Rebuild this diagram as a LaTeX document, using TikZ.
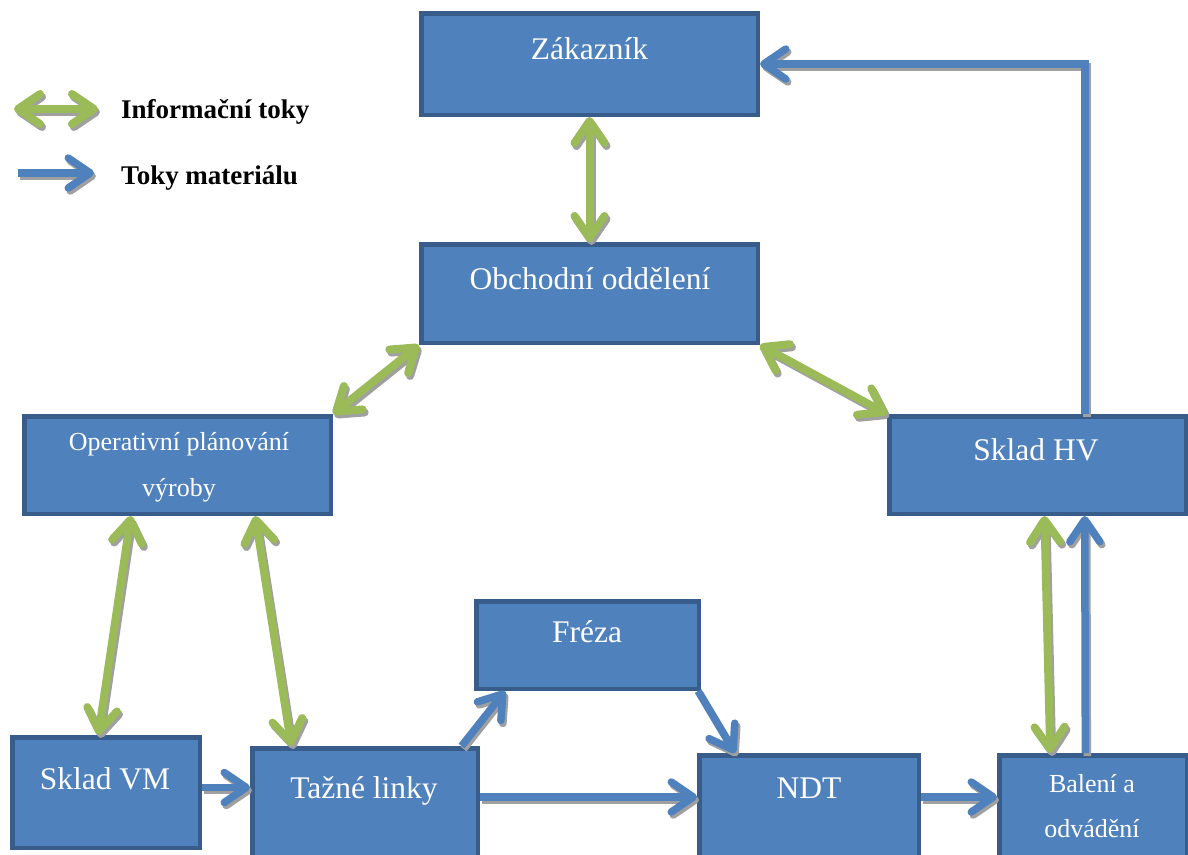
\documentclass[tikz,border=0pt]{standalone}
\usepackage{fontspec}
\setmainfont{Liberation Serif}
\usetikzlibrary{arrows.meta,calc}

\definecolor{boxfill}{HTML}{4F81BD}
\definecolor{boxline}{HTML}{385D8A}
\definecolor{infogreen}{HTML}{9BBB59}
\definecolor{flowshade}{HTML}{A0A0A0}

\tikzset{
  barb/.tip={Straight Barb[length=22pt,width=30pt,round]},
  box/.style={rectangle, draw=boxline, fill=boxfill, line width=4.5pt, inner sep=0pt},
  bigtext/.style={text=white, font=\fontsize{31.5}{36}\selectfont, anchor=base, inner sep=0pt},
  smalltext/.style={text=white, font=\fontsize{26}{30}\selectfont, anchor=base, inner sep=0pt},
  legendtext/.style={text=black, font=\fontsize{27}{32}\selectfont\bfseries, anchor=base west, inner sep=0pt},
  info/.style={draw=infogreen, line width=8pt, barb-barb},
  flow/.style={draw=boxfill, line width=7.5pt, -barb},
}

% an arrow with a grey drop shadow beneath it
\newcommand\castarrow[2]{%
  \begin{scope}[transform canvas={shift={(2pt,-3pt)}}]
    \draw[#1, draw=flowshade] #2;
  \end{scope}
  \draw[#1] #2;}

\begin{document}
\begin{tikzpicture}[x=1pt,y=-1pt]
\clip (0,0) rectangle (1188,854);

% boxes
\node[box, minimum width=336.5pt, minimum height=101.5pt] (zak)  at (589.5,64)   {};
\node[box, minimum width=336.5pt, minimum height=98.5pt]  (obch) at (589.5,293.5) {};
\node[box, minimum width=306.5pt, minimum height=97.5pt]  (oper) at (177.5,465)  {};
\node[box, minimum width=296.5pt, minimum height=97.5pt]  (hv)   at (1037.5,465) {};
\node[box, minimum width=222.5pt, minimum height=87.5pt]  (fr)   at (587.5,645)  {};
\node[box, minimum width=187.5pt, minimum height=110.5pt] (vm)   at (106,792.5)  {};
\node[box, minimum width=225.5pt, minimum height=129.5pt] (taz)  at (365,813)    {};
\node[box, minimum width=219.5pt, minimum height=122.5pt] (ndt)  at (809,816.5)  {};
\node[box, minimum width=187.5pt, minimum height=122.5pt] (bal)  at (1093,816.5) {};

% box captions
\node[bigtext]   (zakT)  at (589.5,59) {Zákazník};
\node[bigtext]   (obchT) at (590,289)  {Obchodní oddělení};
\node[smalltext] (operT) at (179,450)  {Operativní plánování};
\node[smalltext] (operU) at (179,496)  {výroby};
\node[bigtext]   (hvT)   at (1036,460) {Sklad HV};
\node[bigtext]   (frT)   at (587,642)  {Fréza};
\node[bigtext]   (vmT)   at (105,789)  {Sklad VM};
\node[bigtext]   (tazT)  at (364,798)  {Tažné linky};
\node[bigtext]   (ndtT)  at (809,798)  {NDT};
\node[smalltext] (balT)  at (1092,792) {Balení a};
\node[smalltext] (balU)  at (1092,837) {odvádění};

% information flows
\castarrow{info}{(zak.south) -- (obch.north)}
\castarrow{info}{(obch.south west) -- (oper.north east)}
\castarrow{info}{(obch.south east) -- (hv.north west)}
\castarrow{info}{($(oper.south west)!0.35!(oper.south east)$) -- ($(vm.north west)!0.46!(vm.north east)$)}
\castarrow{info}{($(oper.south west)!0.75!(oper.south east)$) -- ($(taz.north west)!0.18!(taz.north east)$)}
\castarrow{info}{($(hv.south west)!0.523!(hv.south east)$) -- ($(bal.north west)!0.277!(bal.north east)$)}

% material flows
\coordinate (row) at ([yshift=-44pt]ndt.north west);
\castarrow{flow}{($(bal.north west)!0.46!(bal.north east)$) -- ($(hv.south west)!0.657!(hv.south east)$)}
\castarrow{flow}{($(hv.north west)!0.657!(hv.north east)$) |- (zak.east)}
\castarrow{flow}{([yshift=5pt]vm.east) -- ([yshift=5pt]vm.east -| taz.west)}
\castarrow{flow}{(row -| taz.east) -- (row -| ndt.west)}
\castarrow{flow}{(row -| ndt.east) -- (row -| bal.west)}
\castarrow{flow}{($(taz.north west)!0.92!(taz.north east)$) -- ($(fr.south west)!0.137!(fr.south east)$)}
\castarrow{flow}{($(fr.south west)!0.987!(fr.south east)$) -- ($(ndt.north west)!0.17!(ndt.north east)$)}

% legend
\coordinate (lgInfoA) at (14,109);
\coordinate (lgInfoB) at (98,109);
\coordinate (lgFlowA) at (18,173);
\coordinate (lgFlowB) at (94,173);
\castarrow{info}{(lgInfoA) -- (lgInfoB)}
\castarrow{flow}{(lgFlowA) -- (lgFlowB)}
\node[legendtext] (lgInfoT) at (121,118) {Informační toky};
\node[legendtext] (lgFlowT) at (121,184) {Toky materiálu};
\end{tikzpicture}
\end{document}
